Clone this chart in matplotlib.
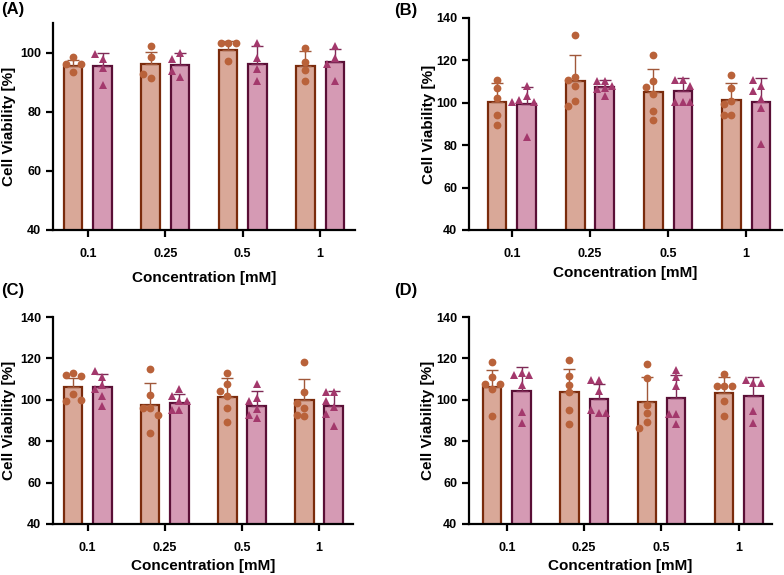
import numpy as np
import matplotlib
matplotlib.use("Agg")
import matplotlib.pyplot as plt

plt.rcParams['font.family'] = ['Liberation Sans', 'DejaVu Sans']
plt.rcParams['font.weight'] = 'bold'

categories = ["0.1", "0.25", "0.5", "1"]
panel_labels = ["(A)", "(B)", "(C)", "(D)"]

# Panel A
A_mean_o = [95.4, 96.0, 100.9, 95.4]
A_sd_o = [2.1, 4.3, 3.1, 5.2]
A_mean_p = [95.4, 95.8, 96.3, 96.9]
A_sd_p = [4.6, 4.2, 6.0, 4.3]
A_pts_o = [[98.6, 96.2, 96.2, 93.4], [102.3, 98.6, 91.4, 92.6],
           [103.1, 103.1, 103.1, 97.1], [101.7, 96.8, 94.1, 90.3]]
A_pts_p = [[97.7, 99.4, 94.9, 89.1], [100.0, 97.7, 91.8, 93.7],
           [103.1, 98.0, 94.5, 90.3], [98.0, 102.3, 96.2, 90.3]]

# Panel B
B_mean_o = [100.2, 110.4, 105.2, 101.4]
B_sd_o = [9.1, 12.0, 10.9, 7.9]
B_mean_p = [99.5, 107.4, 105.5, 100.6]
B_sd_p = [7.9, 3.5, 6.0, 11.1]
B_pts_o = [[110.7, 107.1, 102.4, 94.3, 89.6],
           [131.8, 112.3, 110.7, 107.8, 100.8, 98.7],
           [122.7, 110.4, 107.4, 104.1, 96.2, 91.7],
           [112.9, 107.2, 101.0, 99.4, 94.3, 94.3]]
B_pts_p = [[108.0, 103.0, 101.4, 100.2, 100.5, 84.1],
           [110.5, 110.5, 107.8, 107.0, 106.5, 103.0],
           [110.6, 110.6, 108.0, 100.5, 100.5, 100.5],
           [108.0, 110.6, 105.8, 101.7, 97.5, 80.6]]

# Panel C
C_mean_o = [106.0, 97.3, 101.4, 100.0]
C_sd_o = [4.5, 10.8, 9.1, 10.0]
C_mean_p = [106.0, 98.5, 97.2, 97.2]
C_sd_p = [6.5, 4.3, 6.9, 6.9]
C_pts_o = [[112.9, 112.0, 111.7, 102.8, 99.3, 100.0],
           [115.0, 102.2, 96.0, 96.0, 92.5, 84.0],
           [112.9, 107.6, 104.4, 102.0, 96.0, 89.3],
           [118.1, 103.6, 96.0, 92.0, 92.8, 98.5]]
C_pts_p = [[111.0, 113.8, 107.3, 105.2, 101.7, 97.2],
           [105.2, 102.0, 99.3, 99.3, 94.9, 94.9],
           [107.6, 100.9, 99.3, 95.6, 92.8, 91.2],
           [103.6, 103.6, 96.5, 93.3, 87.2, 99.3]]

# Panel D
D_mean_o = [106.2, 103.6, 98.8, 103.3]
D_sd_o = [8.4, 11.4, 12.2, 7.6]
D_mean_p = [104.4, 100.5, 100.9, 102.0]
D_sd_p = [11.3, 7.1, 11.2, 8.9]
D_pts_o = [[118.1, 110.9, 107.6, 107.6, 105.2, 92.3],
           [119.1, 111.3, 107.3, 103.6, 95.2, 88.3],
           [117.5, 110.5, 97.6, 93.6, 89.1, 86.4],
           [112.6, 106.5, 106.5, 106.5, 99.3, 92.3]]
D_pts_p = [[112.9, 112.1, 112.1, 107.3, 93.9, 88.8],
           [109.4, 109.4, 104.1, 93.6, 95.2, 93.6],
           [114.6, 111.0, 106.5, 93.3, 93.3, 88.3],
           [108.1, 109.7, 108.1, 94.4, 88.8]]

panels = [
    (A_mean_o, A_sd_o, A_pts_o, A_mean_p, A_sd_p, A_pts_p),
    (B_mean_o, B_sd_o, B_pts_o, B_mean_p, B_sd_p, B_pts_p),
    (C_mean_o, C_sd_o, C_pts_o, C_mean_p, C_sd_p, C_pts_p),
    (D_mean_o, D_sd_o, D_pts_o, D_mean_p, D_sd_p, D_pts_p),
]

W, H = 784, 575
fig = plt.figure(figsize=(W / 100, H / 100), dpi=100)

# axes rectangles in pixels: left, top, right, bottom
rects = [(53, 23, 355, 230), (469, 18, 782, 230),
         (53, 317, 353, 524), (469, 317, 772, 524)]
ylims = [(40, 110), (40, 140), (40, 140), (40, 140)]
xlims = [(-0.45, 3.45), (-0.55, 3.46), (-0.45, 3.44), (-0.49, 3.43)]
label_pos = [(1, 2), (394, 3), (1, 283), (394, 283)]
ylabel_x = [9, 429, 9, 428]      # px, center of y label
xlabel_y = [278, 273, 566, 566]  # px, center of x label

fo, eo, mo, lo = '#D9A898', '#7A2B0C', '#B9623A', '#A0583A'
fp, ep, mp, lp = '#D59AB4', '#5A0F36', '#A3386C', '#7E2A56'

bw = 0.24
off = 0.19
mdiam = 7.5  # marker diameter in px


def swarm(ax, xc, vals):
    placed = []
    xs = []
    inv = ax.transData.inverted()
    for v in vals:
        px, py = ax.transData.transform((xc, v))
        for k in [0, -1, 1, -2, 2, -3, 3]:
            cx = px + k * mdiam
            if all((cx - a) ** 2 + (py - b) ** 2 >= (mdiam * 0.98) ** 2 for a, b in placed):
                break
        placed.append((cx, py))
        xs.append(inv.transform((cx, py))[0])
    return xs


for i, (mo_, so_, po_, mp_, sp_, pp_) in enumerate(panels):
    l, t, r, b = rects[i]
    ax = fig.add_axes([l / W, 1 - b / H, (r - l) / W, (b - t) / H])
    ax.set_ylim(*ylims[i])
    ax.set_xlim(*xlims[i])
    x = np.arange(len(categories))
    ax.bar(x - off, mo_, width=bw, color=fo, edgecolor=eo, linewidth=1.6, zorder=2)
    ax.bar(x + off, mp_, width=bw, color=fp, edgecolor=ep, linewidth=1.6, zorder=2)
    ax.errorbar(x - off, mo_, yerr=[np.zeros(4), so_], fmt='none', ecolor=lo,
                elinewidth=1.0, capsize=4, capthick=1.0, zorder=3)
    ax.errorbar(x + off, mp_, yerr=[np.zeros(4), sp_], fmt='none', ecolor=lp,
                elinewidth=1.0, capsize=4, capthick=1.0, zorder=3)
    for j in range(len(categories)):
        xs = swarm(ax, x[j] - off, po_[j])
        ax.plot(xs, po_[j], 'o', color=mo, markersize=5.6, markeredgewidth=0, zorder=4)
        xs = swarm(ax, x[j] + off, pp_[j])
        ax.plot(xs, pp_[j], '^', color=mp, markersize=5.8, markeredgewidth=0, zorder=4)
    ax.set_yticks(np.arange(ylims[i][0], ylims[i][1] + 1, 20))
    ax.set_xticks(x)
    ax.set_xticklabels(categories)
    for s in ['top', 'right']:
        ax.spines[s].set_visible(False)
    for s in ['left', 'bottom']:
        ax.spines[s].set_linewidth(1.6)
    ax.tick_params(axis='both', width=1.6, length=5, labelsize=9, direction='out')
    for lab in ax.get_xticklabels() + ax.get_yticklabels():
        lab.set_fontweight('bold')
    ax.tick_params(axis='x', pad=8)
    ax.set_ylabel('Cell Viability [%]', fontsize=11, fontweight='bold')
    ax.set_xlabel('Concentration [mM]', fontsize=11, fontweight='bold')
    ax.yaxis.set_label_coords((ylabel_x[i] - l) / (r - l), 0.5)
    ax.yaxis.label.set_va('center')
    ax.xaxis.set_label_coords(0.5, -(xlabel_y[i] - b) / (b - t))
    ax.xaxis.label.set_va('center')
    fig.text(label_pos[i][0] / W, 1 - label_pos[i][1] / H, panel_labels[i],
             fontsize=12, fontweight='bold', va='top', ha='left')

fig.savefig('out.png', dpi=100)
